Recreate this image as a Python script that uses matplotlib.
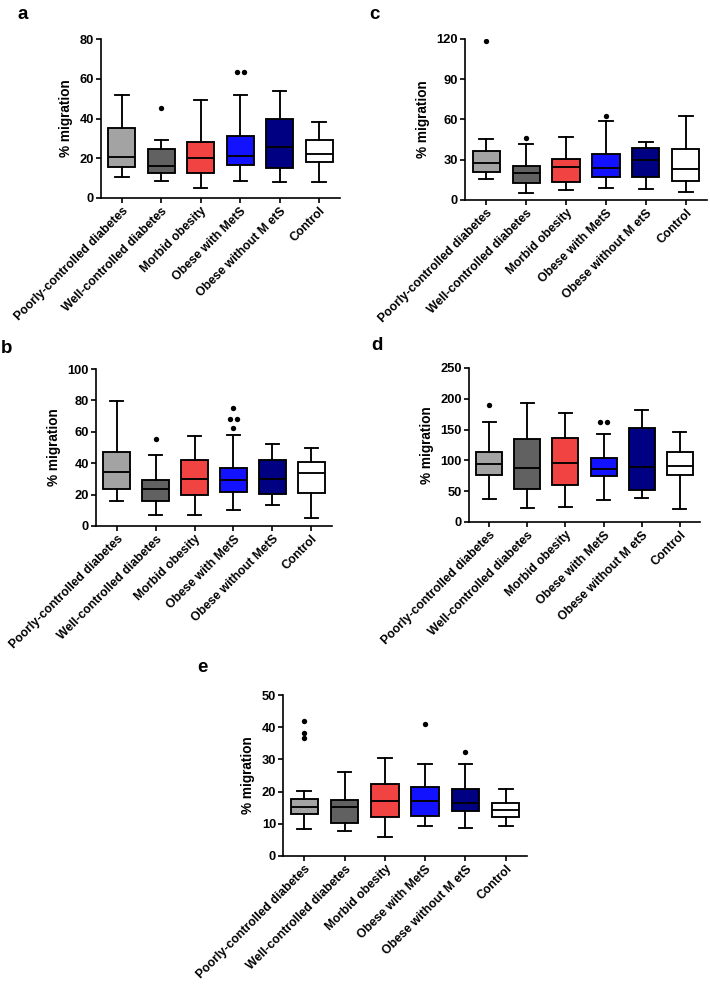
import matplotlib
matplotlib.use("Agg")
import matplotlib.pyplot as plt
import numpy as np

plt.rcParams['font.family'] = ['Liberation Sans', 'DejaVu Sans']
plt.rcParams['font.weight'] = 'bold'

groups = ["Poorly-controlled diabetes", "Well-controlled diabetes", "Morbid obesity",
          "Obese with MetS", "Obese without MetS", "Control"]
groups_spaced = ["Poorly-controlled diabetes", "Well-controlled diabetes", "Morbid obesity",
                 "Obese with MetS", "Obese without M etS", "Control"]
colors = ["#a3a3a3", "#616161", "#f24343", "#1212ff", "#000082", "#ffffff"]

# Panel a
a_whislo = [10.5, 8.5, 5.2, 8.5, 8.2, 8.0]
a_q1 = [15.5, 12.7, 12.7, 16.6, 14.9, 17.9]
a_med = [20.5, 15.9, 20.1, 21.1, 25.5, 22.0]
a_q3 = [35.0, 24.7, 28.1, 31.1, 39.5, 29.0]
a_whishi = [52.0, 29.0, 49.1, 52.0, 53.8, 38.3]
a_fliers = [[], [45.5], [], [63.5, 63.5], [], []]
a_yticks = [0, 20, 40, 60, 80]

# Panel b
b_whislo = [16.0, 7.2, 6.8, 9.9, 13.2, 5.3]
b_q1 = [23.4, 16.2, 19.5, 21.8, 20.6, 20.8]
b_med = [34.6, 23.5, 29.9, 29.0, 29.9, 33.7]
b_q3 = [47.0, 29.5, 41.8, 36.8, 41.8, 40.7]
b_whishi = [79.7, 45.0, 57.1, 57.8, 52.0, 49.6]
b_fliers = [[], [55.6], [], [75.0, 68.3, 68.3, 62.3], [], []]
b_yticks = [0, 20, 40, 60, 80, 100]

# Panel c
c_whislo = [15.7, 5.5, 7.8, 9.2, 8.4, 5.7]
c_q1 = [21.1, 12.4, 13.6, 17.1, 17.1, 13.9]
c_med = [27.4, 19.9, 24.4, 23.7, 29.9, 23.4]
c_q3 = [36.6, 25.5, 30.5, 34.5, 39.1, 37.9]
c_whishi = [45.3, 41.8, 47.3, 59.0, 43.0, 62.4]
c_fliers = [[118.2], [46.3], [], [62.7], [], []]
c_yticks = [0, 30, 60, 90, 120]

# Panel d
d_whislo = [37.9, 22.7, 24.4, 35.2, 39.0, 21.1]
d_q1 = [76.8, 54.1, 60.6, 74.5, 52.6, 75.8]
d_med = [94.2, 88.2, 95.2, 85.8, 89.6, 90.9]
d_q3 = [113.1, 134.2, 135.8, 103.9, 153.4, 113.6]
d_whishi = [162.9, 193.2, 177.4, 143.4, 181.8, 145.6]
d_fliers = [[189.9], [], [], [161.8, 161.8], [], []]
d_yticks = [0, 50, 100, 150, 200, 250]

# Panel e
e_whislo = [8.5, 7.7, 5.9, 9.2, 8.7, 9.4]
e_q1 = [13.0, 10.4, 12.0, 12.3, 14.0, 12.0]
e_med = [15.3, 15.1, 17.2, 17.2, 16.6, 14.3]
e_q3 = [17.6, 17.4, 22.4, 21.5, 20.7, 16.4]
e_whishi = [20.2, 26.2, 30.3, 28.6, 28.7, 20.8]
e_fliers = [[42.0, 38.2, 36.6], [], [], [41.0], [32.2], []]
e_yticks = [0, 10, 20, 30, 40, 50]

W, H = 710, 985
fig = plt.figure(figsize=(W / 100, H / 100), dpi=100)


def px_axes(left, right, bottom, top):
    return fig.add_axes([left / W, 1 - bottom / H, (right - left) / W, (bottom - top) / H])


def draw_panel(ax, letter, whislo, q1, med, q3, whishi, fliers, yticks, labels, letter_xy):
    n = len(med)
    stats = []
    for i in range(n):
        stats.append(dict(whislo=whislo[i], q1=q1[i], med=med[i], q3=q3[i],
                          whishi=whishi[i], fliers=[]))
    pos = np.arange(1, n + 1)
    lw = 1.35
    bp = ax.bxp(stats, positions=pos, widths=0.68, patch_artist=True, showfliers=False,
                boxprops=dict(linewidth=lw, edgecolor='black'),
                medianprops=dict(color='black', linewidth=lw),
                whiskerprops=dict(color='black', linewidth=lw),
                capprops=dict(color='black', linewidth=lw),
                capwidths=0.34)
    for patch, c in zip(bp['boxes'], colors):
        patch.set_facecolor(c)
    # outliers, duplicated values spread side by side
    for i, fl in enumerate(fliers):
        vals = np.array(fl, dtype=float)
        for v in np.unique(vals):
            k = int(np.sum(vals == v))
            offs = (np.arange(k) - (k - 1) / 2) * 0.18
            ax.scatter(pos[i] + offs, [v] * k, s=15, color='black', zorder=5, linewidths=0)
    ymax = yticks[-1]
    ax.set_ylim(0, ymax)
    ax.set_yticks(yticks)
    ax.set_xlim(0.47, n + 0.53)
    ax.set_xticks(pos)
    ax.set_xticklabels(labels, rotation=45, ha='right', rotation_mode='anchor',
                       fontsize=8.8, fontweight='bold')
    for t in ax.get_yticklabels():
        t.set_fontsize(9.3)
        t.set_fontweight('bold')
    ax.set_ylabel('% migration', fontsize=9.8, fontweight='bold', labelpad=5)
    ax.spines['top'].set_visible(False)
    ax.spines['right'].set_visible(False)
    for s in ('left', 'bottom'):
        ax.spines[s].set_linewidth(1.2)
    ax.tick_params(axis='both', direction='out', length=3.5, width=1.2, pad=1.5)
    fig.text(letter_xy[0] / W, 1 - letter_xy[1] / H, letter, fontsize=13.5,
             fontweight='bold', ha='left', va='baseline')


ax_a = px_axes(101, 340, 198, 39)
draw_panel(ax_a, 'a', a_whislo, a_q1, a_med, a_q3, a_whishi, a_fliers, a_yticks,
           groups_spaced, (17, 19))
ax_c = px_axes(465, 707, 200, 39)
draw_panel(ax_c, 'c', c_whislo, c_q1, c_med, c_q3, c_whishi, c_fliers, c_yticks,
           groups_spaced, (369, 19))
ax_b = px_axes(96, 332, 526, 369)
draw_panel(ax_b, 'b', b_whislo, b_q1, b_med, b_q3, b_whishi, b_fliers, b_yticks,
           groups, (1, 353))
ax_d = px_axes(469, 700, 522, 368)
draw_panel(ax_d, 'd', d_whislo, d_q1, d_med, d_q3, d_whishi, d_fliers, d_yticks,
           groups_spaced, (371, 350))
ax_e = px_axes(283, 527, 856, 695)
draw_panel(ax_e, 'e', e_whislo, e_q1, e_med, e_q3, e_whishi, e_fliers, e_yticks,
           groups_spaced, (197, 672))

fig.savefig('out.png', dpi=100, facecolor='white')
